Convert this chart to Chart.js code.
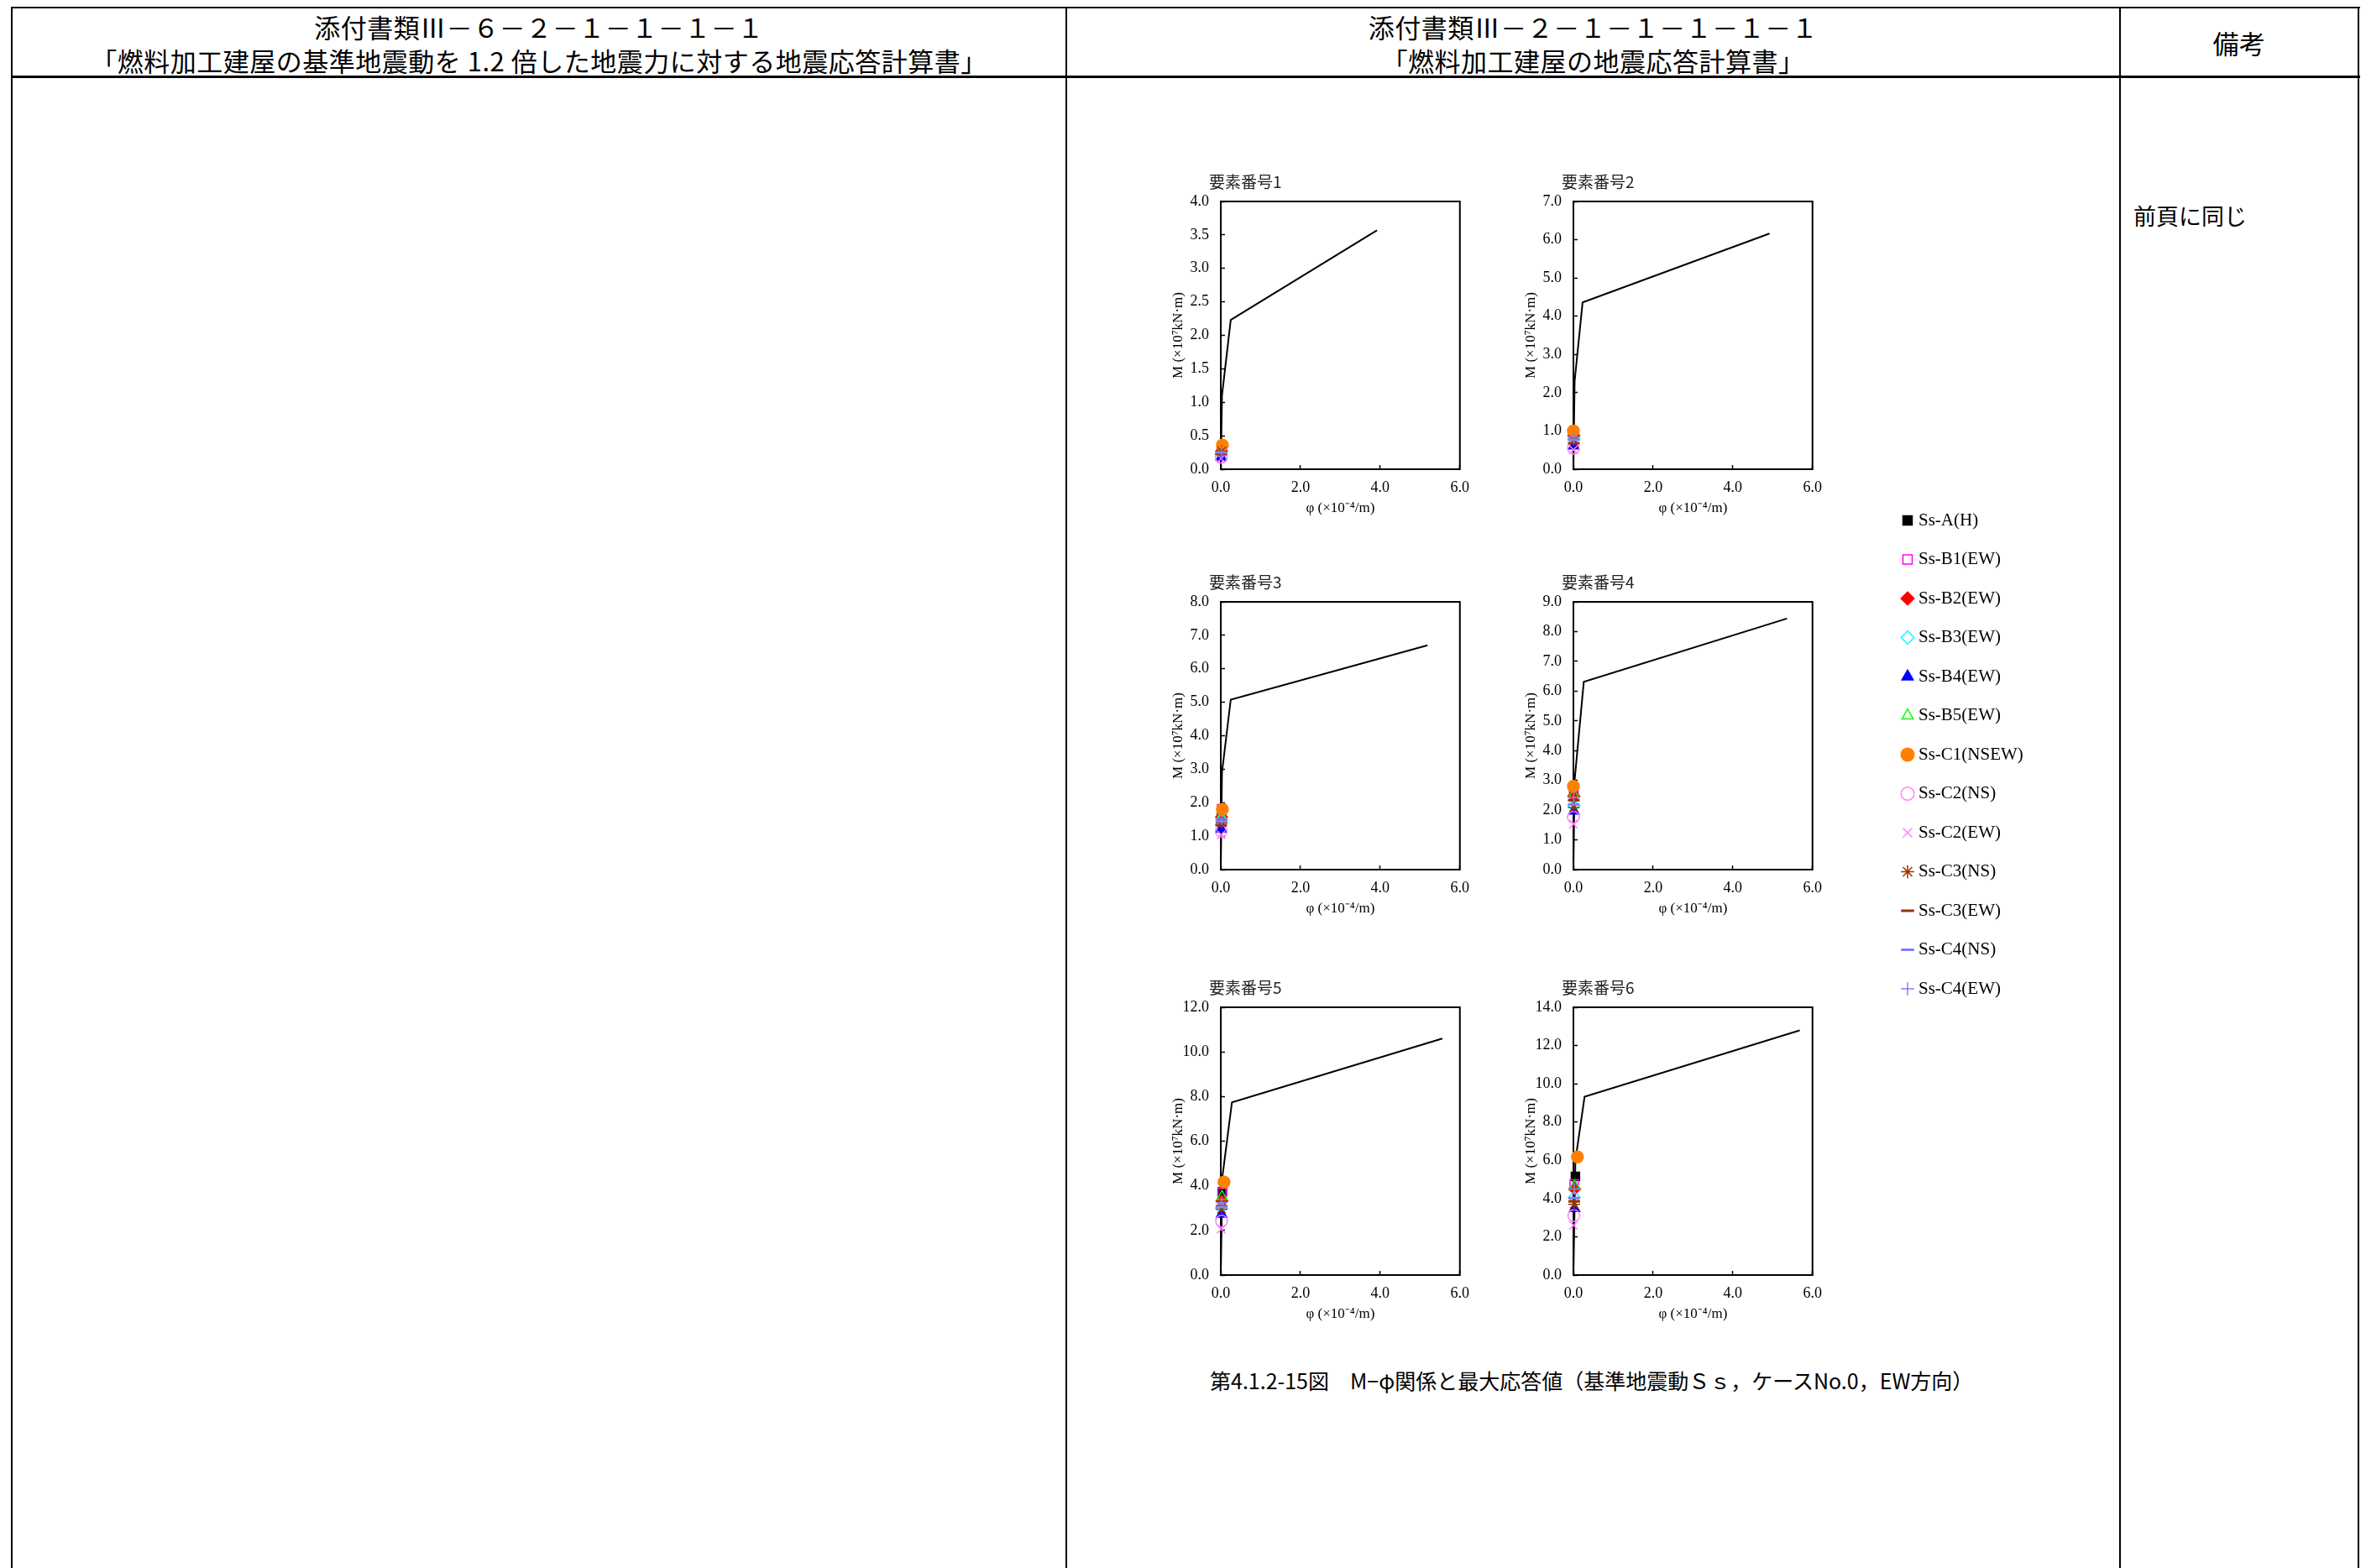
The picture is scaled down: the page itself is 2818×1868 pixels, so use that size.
<!DOCTYPE html>
<html lang="ja">
<head>
<meta charset="utf-8">
<title>M-φ関係と最大応答値</title>
<script src="https://cdn.jsdelivr.net/npm/chart.js@4.4.1/dist/chart.umd.min.js"></script>
<style>
  html, body { margin: 0; padding: 0; background: #fff; }
  body { width: 2818px; height: 1868px; position: relative; overflow: hidden;
         font-family: "Noto Sans CJK JP", sans-serif; color: #000; }
  .hl { position: absolute; left: 13px; width: 2798px; background: #000; }
  .vl { position: absolute; top: 8px; height: 1860px; width: 2px; background: #000; }
  .cell { position: absolute; text-align: center; white-space: nowrap; line-height: 1;
          font-size: 31px; letter-spacing: 0.5px; }
  .txt { position: absolute; white-space: nowrap; line-height: 1; }
  canvas { position: absolute; }
</style>
</head>
<body>
  <!-- table frame -->
  <div class="hl" style="top:8px;height:2px"></div>
  <div class="hl" style="top:90px;height:3px"></div>
  <div class="vl" style="left:13px"></div>
  <div class="vl" style="left:1269px"></div>
  <div class="vl" style="left:2524px"></div>
  <div class="vl" style="left:2808px"></div>

  <!-- header -->
  <div class="cell" style="left:15px;width:1254px;top:16px">添付書類Ⅲ－６－２－１－１－１－１</div>
  <div class="cell" style="left:15px;width:1254px;top:56px">「燃料加工建屋の基準地震動を 1.2 倍した地震力に対する地震応答計算書」</div>
  <div class="cell" style="left:1271px;width:1253px;top:16px">添付書類Ⅲ－２－１－１－１－１－１</div>
  <div class="cell" style="left:1271px;width:1253px;top:56px">「燃料加工建屋の地震応答計算書」</div>
  <div class="cell" style="left:2526px;width:282px;top:35px">備考</div>

  <div class="txt" style="left:2541px;top:243px;font-size:27px">前頁に同じ</div>

  <canvas id="p1" width="386" height="434" style="left:1380px;top:195px"></canvas>
  <canvas id="p2" width="386" height="434" style="left:1800px;top:195px"></canvas>
  <canvas id="p3" width="386" height="434" style="left:1380px;top:672px"></canvas>
  <canvas id="p4" width="386" height="434" style="left:1800px;top:672px"></canvas>
  <canvas id="p5" width="386" height="434" style="left:1380px;top:1155px"></canvas>
  <canvas id="p6" width="386" height="434" style="left:1800px;top:1155px"></canvas>
  <canvas id="legend" width="420" height="660" style="left:2244px;top:584px"></canvas>

  <div class="txt" style="left:1441px;top:1632px;font-size:25px">第4.1.2-15図　M−φ関係と最大応答値（基準地震動Ｓｓ，ケースNo.0，EW方向）</div>

<script>
// 要素ごとの設定
const panelTitles = ["要素番号1", "要素番号2", "要素番号3", "要素番号4", "要素番号5", "要素番号6"];
const yMax = [4, 7, 8, 9, 12, 14];
const yStep = [0.5, 1, 1, 1, 2, 2];

// スケルトンカーブ (φ: ×10^-4/m, M: ×10^7 kN·m)
const skelPhi = [
  [0, 0.03, 0.25, 3.92],
  [0, 0.03, 0.23, 4.92],
  [0, 0.03, 0.25, 5.19],
  [0, 0.03, 0.26, 5.36],
  [0, 0.04, 0.28, 5.56],
  [0, 0.05, 0.28, 5.68]
];
const skelM = [
  [0, 1.10, 2.23, 3.57],
  [0, 2.30, 4.36, 6.16],
  [0, 2.90, 5.08, 6.70],
  [0, 3.00, 6.31, 8.44],
  [0, 4.40, 7.74, 10.60],
  [0, 6.00, 9.32, 12.79]
];

// 地震波
const waveNames = [
  "Ss-A(H)", "Ss-B1(EW)", "Ss-B2(EW)", "Ss-B3(EW)", "Ss-B4(EW)", "Ss-B5(EW)",
  "Ss-C1(NSEW)", "Ss-C2(NS)", "Ss-C2(EW)", "Ss-C3(NS)", "Ss-C3(EW)", "Ss-C4(NS)", "Ss-C4(EW)"
];

// 最大応答値 M (要素番号1〜6)
const respM = [
  [0.29, 0.88, 1.61, 2.61, 3.73, 5.16],
  [0.31, 0.99, 1.82, 2.70, 3.70, 4.76],
  [0.27, 0.88, 1.57, 2.47, 3.32, 4.50],
  [0.23, 0.80, 1.48, 2.14, 3.00, 4.06],
  [0.18, 0.61, 1.21, 1.97, 2.73, 3.48],
  [0.26, 0.85, 1.60, 2.52, 3.52, 4.65],
  [0.36, 1.00, 1.80, 2.80, 4.17, 6.18],
  [0.18, 0.55, 1.15, 1.76, 2.42, 3.11],
  [0.16, 0.51, 1.04, 1.53, 2.06, 2.60],
  [0.27, 0.77, 1.40, 2.09, 2.95, 3.70],
  [0.23, 0.68, 1.33, 2.33, 3.09, 3.85],
  [0.25, 0.77, 1.44, 2.19, 3.05, 4.03],
  [0.25, 0.84, 1.52, 2.42, 3.25, 4.50]
];
// 最大応答値 φ (要素番号1〜6)
const respPhi = [
  [0.02, 0.01, 0.02, 0.01, 0.04, 0.05],
  [0.02, 0.01, 0.02, 0.01, 0.03, 0.02],
  [0.02, 0.01, 0.02, 0.01, 0.03, 0.03],
  [0.01, 0.01, 0.02, 0.01, 0.02, 0.02],
  [0.01, 0.01, 0.01, 0.01, 0.02, 0.03],
  [0.02, 0.01, 0.02, 0.01, 0.03, 0.03],
  [0.04, 0.00, 0.04, 0.00, 0.08, 0.10],
  [0.01, 0.00, 0.01, 0.00, 0.02, 0.01],
  [0.01, 0.00, 0.01, 0.00, 0.01, 0.00],
  [0.02, 0.01, 0.02, 0.01, 0.02, 0.02],
  [0.01, 0.01, 0.01, 0.01, 0.02, 0.02],
  [0.02, 0.01, 0.02, 0.01, 0.02, 0.02],
  [0.02, 0.01, 0.02, 0.01, 0.02, 0.02]
];

// マーカー
const markerStyle = ["rect", "rect", "rectRot", "rectRot", "triangle", "triangle",
  "circle", "circle", "crossRot", "star", "line", "line", "cross"];
const markerColor = ["#000000", "#FF00FF", "#FF0000", "#00FFFF", "#0000FF", "#00FF00",
  "#FF8000", "#FF80FF", "#FF80FF", "#993300", "#993300", "#8080FF", "#8080FF"];
const markerFilled = [true, false, true, false, true, false, true, false, false, false, false, false, false];

const serif = "'Liberation Serif', 'Times New Roman', serif";

// 枠線と要素番号の表示
const panelFrame = {
  id: "panelFrame",
  beforeDatasetsDraw(chart) {
    const a = chart.chartArea;
    const ctx = chart.ctx;
    ctx.save();
    ctx.strokeStyle = "#000";
    ctx.lineWidth = 2;
    ctx.strokeRect(a.left, a.top, a.right - a.left, a.bottom - a.top);
    ctx.restore();
  },
  afterDraw(chart, args, opts) {
    if (!opts.text) return;
    const ctx = chart.ctx;
    ctx.save();
    ctx.font = "19px 'Noto Sans CJK JP'";
    ctx.fillStyle = "#222";
    ctx.textBaseline = "middle";
    ctx.fillText(opts.text, chart.chartArea.left - 14, chart.chartArea.top - 23);
    ctx.restore();
  }
};

function seriesDataset(s, data) {
  return {
    label: waveNames[s],
    data: data,
    pointStyle: markerStyle[s],
    pointRadius: 7,
    backgroundColor: markerFilled[s] ? markerColor[s] : "rgba(0,0,0,0)",
    borderColor: markerColor[s],
    borderWidth: markerStyle[s] === "line" ? 3 : 1.5,
    order: 50 - s,
    clip: false
  };
}

function panelConfig(e) {
  const datasets = [{
    label: "skeleton",
    data: skelPhi[e].map((p, i) => ({ x: p, y: skelM[e][i] })),
    showLine: true,
    borderColor: "#000",
    borderWidth: 2,
    pointRadius: 0,
    order: 100
  }];
  waveNames.forEach((name, s) => {
    datasets.push(seriesDataset(s, [{ x: respPhi[s][e], y: respM[s][e] }]));
  });

  const tickFont = { family: serif, size: 18 };
  const titleFont = { family: serif, size: 17 };

  return {
    type: "scatter",
    data: { datasets: datasets },
    plugins: [panelFrame],
    options: {
      responsive: false,
      animation: false,
      events: [],
      layout: { padding: { top: 45, right: 20, bottom: 0, left: 0 } },
      scales: {
        x: {
          type: "linear",
          min: 0,
          max: 6,
          border: { display: false },
          grid: { drawOnChartArea: false, tickLength: -5, tickColor: "#000", tickWidth: 1.5 },
          ticks: { stepSize: 2, padding: 16, color: "#000", font: tickFont, maxRotation: 0,
                   callback: v => v.toFixed(1) },
          title: { display: true, text: "φ (×10⁻⁴/m)", color: "#000", font: titleFont,
                   padding: { top: 0, bottom: 13 } },
          afterFit: scale => { scale.height = 70; }
        },
        y: {
          type: "linear",
          min: 0,
          max: yMax[e],
          border: { display: false },
          grid: { drawOnChartArea: false, tickLength: -5, tickColor: "#000", tickWidth: 1.5 },
          ticks: { stepSize: yStep[e], padding: 19, color: "#000", font: tickFont,
                   callback: v => v.toFixed(1) },
          title: { display: true, text: "M (×10⁷kN·m)", color: "#000", font: titleFont,
                   padding: { top: 13, bottom: 0 } },
          afterFit: scale => { scale.width = 74; }
        }
      },
      plugins: {
        legend: { display: false },
        tooltip: { enabled: false },
        panelFrame: { text: panelTitles[e] }
      }
    }
  };
}

for (let e = 0; e < 6; e++) {
  new Chart(document.getElementById("p" + (e + 1)), panelConfig(e));
}

// 凡例
new Chart(document.getElementById("legend"), {
  type: "scatter",
  data: { datasets: waveNames.map((name, s) => Object.assign(seriesDataset(s, []), { order: 0 })) },
  options: {
    responsive: false,
    animation: false,
    events: [],
    scales: { x: { display: false }, y: { display: false } },
    plugins: {
      tooltip: { enabled: false },
      legend: {
        position: "left",
        align: "start",
        labels: {
          usePointStyle: true,
          boxWidth: 5,
          boxHeight: 11,
          padding: 25.5,
          color: "#000",
          font: { family: serif, size: 21 }
        }
      }
    }
  }
});
</script>
</body>
</html>
